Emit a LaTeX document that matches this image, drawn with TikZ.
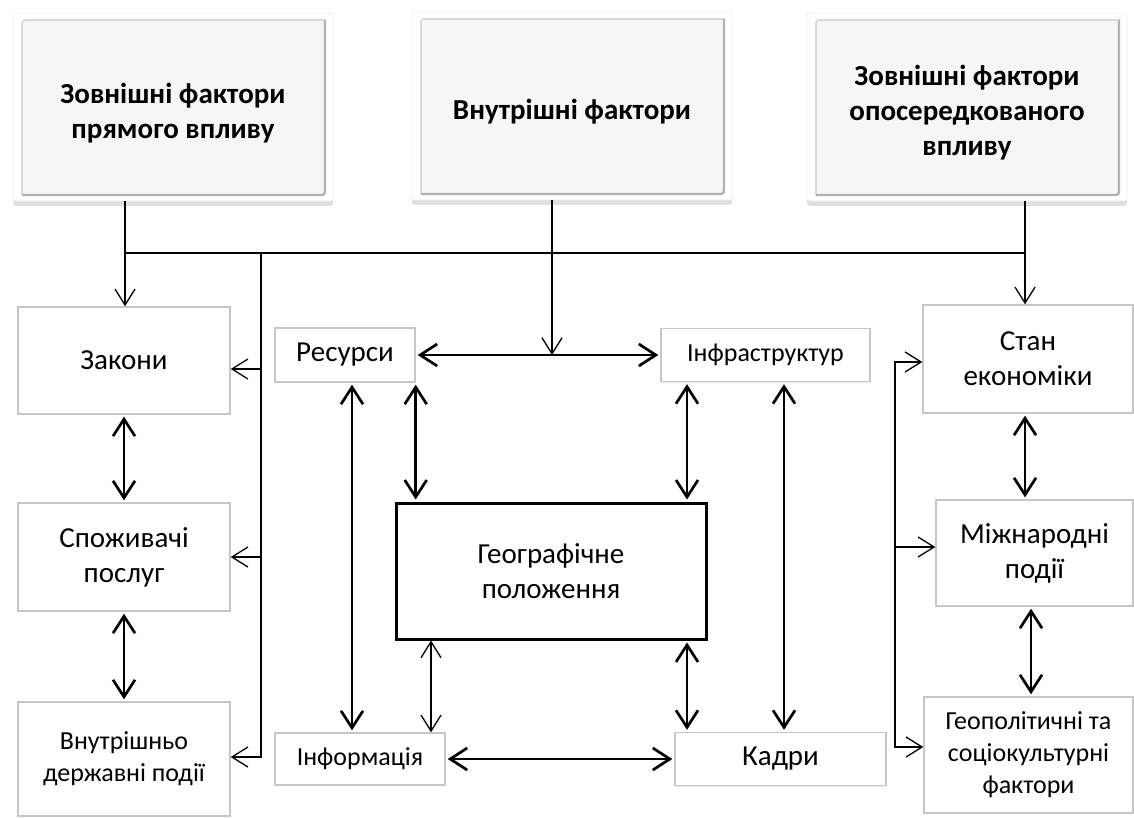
\documentclass[tikz,border=0pt]{standalone}
\usepackage{fontspec}
\setmainfont{Carlito}
\usetikzlibrary{arrows.meta,shadows}

\tikzstyle{topbox} = [fill=white, draw=gray!12, rounded corners=1.5pt, minimum width=160pt, minimum height=94pt,
      drop shadow={shadow xshift=0pt, shadow yshift=-2.5pt, opacity=0.25},
      path picture={
      \fill[gray!7] ([shift={(4.5pt,-3.5pt)}]path picture bounding box.north west) rectangle ([shift={(-4pt,3pt)}]path picture bounding box.south east);
      \draw[gray!30, line width=0.8pt] ([shift={(4.5pt,3pt)}]path picture bounding box.south west) -- ([shift={(4.5pt,-3.5pt)}]path picture bounding box.north west) -- ([shift={(-4pt,-3.5pt)}]path picture bounding box.north east);
      \draw[gray!60, line width=1.2pt] ([shift={(4.5pt,3pt)}]path picture bounding box.south west) -- ([shift={(-4pt,3pt)}]path picture bounding box.south east) -- ([shift={(-4pt,-3.5pt)}]path picture bounding box.north east);}]
\tikzstyle{toptitle} = [align=center, font=\fontsize{14.5}{17.5}\selectfont\bfseries]
\tikzstyle{box} = [draw=gray!45, line width=0.7pt, fill=white, align=center, font=\fontsize{14.5}{17.5}\selectfont,
      drop shadow={shadow xshift=0.6pt, shadow yshift=-0.6pt, opacity=0.15}]
\tikzstyle{smalltext} = [font=\fontsize{13}{16}\selectfont]
\tikzstyle{geobox} = [draw=black, line width=1.5pt, fill=white, align=center, font=\fontsize{14.5}{17.5}\selectfont]
\tikzstyle{link} = [line width=0.65pt]
\tikzstyle{feed} = [link, -{Straight Barb[length=8pt,width=10pt]}]
\tikzstyle{thinboth} = [link, {Straight Barb[length=8pt,width=10pt]}-{Straight Barb[length=8pt,width=10pt]}]
\tikzstyle{both} = [line width=1.35pt, shorten <=1pt, shorten >=1pt, {Straight Barb[length=8.5pt,width=11pt]}-{Straight Barb[length=8.5pt,width=11pt]}]

\begin{document}
\begin{tikzpicture}[x=0.5pt,y=-0.5pt]
\useasboundingbox (0,0) rectangle (1134,818);

%   factor groups
	\node[topbox] (direct) at (173,107) {};
	\node[topbox] (inner) at (572,106) {};
	\node[topbox] (indirect) at (967,107) {};
	\node[toptitle] (directT) at ([yshift=-3pt]direct.center) {Зовнішні фактори\\прямого впливу};
	\node[toptitle] (innerT) at ([yshift=-3pt]inner.center) {Внутрішні фактори};
	\node[toptitle] (indirectT) at ([yshift=-3pt]indirect.center) {Зовнішні фактори\\опосередкованого\\впливу};

%   left column
	\node[box, minimum width=106pt, minimum height=53.5pt] (laws) at (124,360.5) {Закони};
	\node[box, minimum width=106pt, minimum height=54pt] (consumers) at (124,557) {Споживачі\\послуг};
	\node[box, smalltext, minimum width=106pt, minimum height=57pt] (domestic) at (124,759) {Внутрішньо\\державні події};

%   internal factors
	\node[box, minimum width=70pt, minimum height=27pt] (resources) at (345,355) {Ресурси};
	\node[box, smalltext, minimum width=104.5pt, minimum height=26.5pt] (infra) at (765.5,355) {Інфраструктур};
	\node[geobox, minimum width=155pt, minimum height=68pt] (geo) at (551,571) {Географічне\\положення};
	\node[box, smalltext, minimum width=85pt, minimum height=26pt] (info) at (360,759) {Інформація};
	\node[box, minimum width=105.5pt, minimum height=26.5pt] (staff) at (780.5,759) {Кадри};

%   right column
	\node[box, minimum width=105pt, minimum height=54pt] (economy) at (1028,359) {Стан\\економіки};
	\node[box, minimum width=98.5pt, minimum height=53pt] (intl) at (1034.5,553) {Міжнародні\\події};
	\node[box, smalltext, minimum width=104.5pt, minimum height=58pt] (geopol) at (1028.5,755) {Геополітичні та\\соціокультурні\\фактори};

%   bus
	\coordinate (busL) at (125,253);
	\coordinate (busR) at (1025,253);
	\coordinate (spine) at (261,253);
	\coordinate (mid) at (552,355);
	\draw[link] (direct.south -| busL) -- (busL) -- (busR) -- (indirect.south -| busR);
	\draw[feed] (busL) -- (laws.north -| busL);
	\draw[feed] (busR) -- (economy.north -| busR);
	\draw[feed] (inner.south -| mid) -- (mid);

%   left spine
	\coordinate (s1) at (261,369);
	\coordinate (s2) at (261,557);
	\coordinate (s3) at (261,757);
	\draw[feed] (spine) -- (s3) -- (s3 -| domestic.east);
	\draw[feed] (s1) -- (s1 -| laws.east);
	\draw[feed] (s2) -- (s2 -| consumers.east);

%   right bracket
	\coordinate (r1) at (895,362);
	\coordinate (r2) at (895,547);
	\coordinate (r3) at (895,747);
	\draw[feed] (r2) -- (r1) -- (r1 -| economy.west);
	\draw[feed] (r2) -- (r3) -- (r3 -| geopol.west);
	\draw[feed] (r2) -- (r2 -| intl.west);

%   two-way links
	\coordinate (xa) at (352,0);
	\coordinate (xb) at (687,0);
	\coordinate (xc) at (784,0);
	\coordinate (xd) at (431,0);
	\coordinate (xf) at (1031,0);
	\draw[both] (laws) -- (consumers);
	\draw[both] (consumers) -- (domestic);
	\draw[both] (resources) -- (infra);
	\draw[both] (info) -- (staff);
	\draw[both] (resources.south -| xa) -- (info.north -| xa);
	\draw[both] (resources.south east) -- (geo.north -| resources.south east);
	\draw[both] (infra.south -| xb) -- (geo.north -| xb);
	\draw[both] (infra.south -| xc) -- (staff.north -| xc);
	\draw[thinboth] (geo.south -| xd) -- (info.north -| xd);
	\draw[both] (geo.south -| xb) -- (staff.north -| xb);
	\draw[both] (economy.south -| busR) -- (intl.north -| busR);
	\draw[both] (intl.south -| xf) -- (geopol.north -| xf);

\end{tikzpicture}
\end{document}
